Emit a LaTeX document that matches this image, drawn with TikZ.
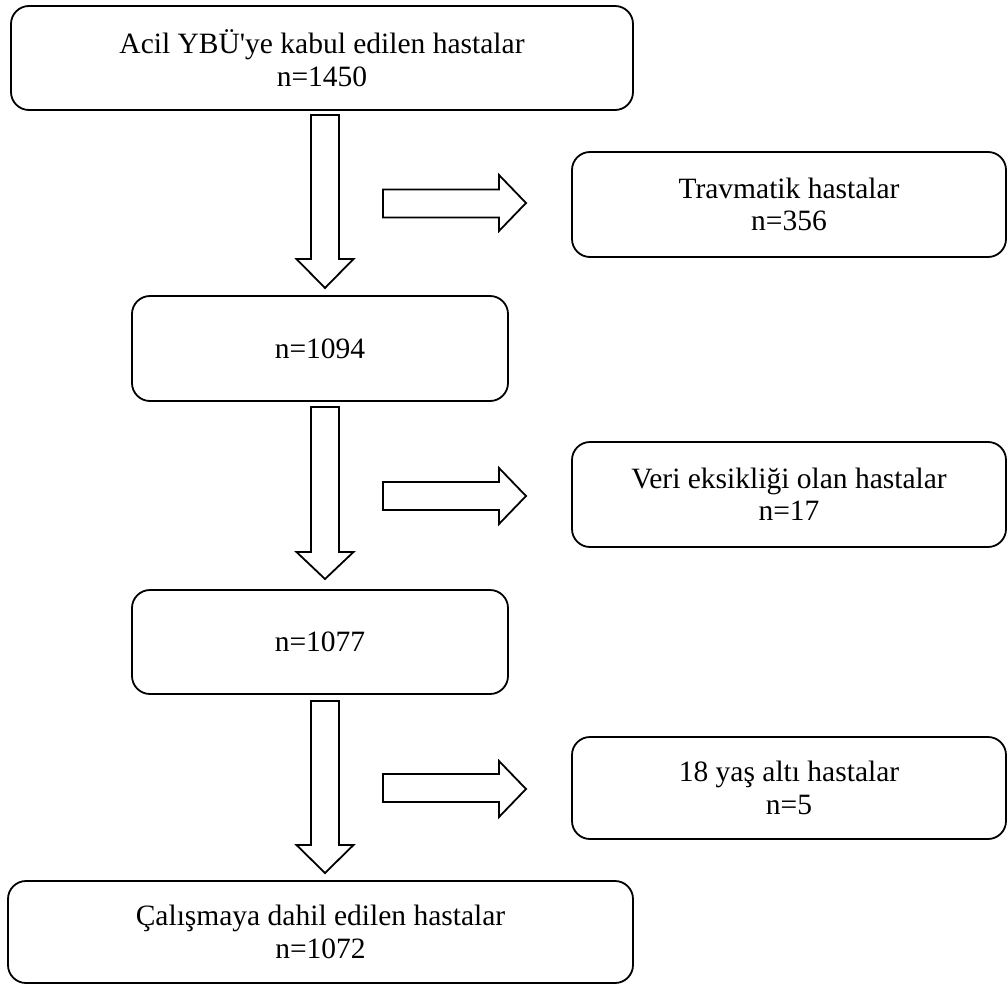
\documentclass[tikz,border=0pt]{standalone}
\usepackage{fontspec}
\setmainfont{Liberation Serif}
\begin{document}
\begin{tikzpicture}[x=1pt,y=-1pt,
  box/.style={draw=black, line width=1.8pt, rounded corners=18pt, align=center,
    inner sep=0pt, font=\fontsize{29.5}{32.5}\selectfont},
  blk/.style={draw=black, line width=1.8pt, fill=white, line join=miter}]
\useasboundingbox (0,0) rectangle (1008,984);
\newcommand\blockdown[4]{% x, top, headstart, tip
  \draw[blk] (#1-14,#2) -- (#1+14,#2) -- (#1+14,#3) -- (#1+28.5,#3) -- (#1,#4)
    -- (#1-28.5,#3) -- (#1-14,#3) -- cycle;}
\newcommand\blockright[2]{% top of shaft, tip y
  \draw[blk] (383,#1) -- (499,#1) -- (499,#2-28) -- (526,#2) -- (499,#2+28)
    -- (499,#1+28) -- (383,#1+28) -- cycle;}
\node[box, minimum width=622pt, minimum height=104pt] (b1) at (322,58)
  {Acil YBÜ\textquotesingle ye kabul edilen hastalar\\n=1450};
\node[box, minimum width=434pt, minimum height=105pt] (t) at (789,204.5)
  {Travmatik hastalar\\n=356};
\node[box, minimum width=376pt, minimum height=105pt] (b2) at (320,348.5)
  {n=1094};
\node[box, minimum width=434pt, minimum height=105pt] (v) at (789,494.5)
  {Veri eksikliği olan hastalar\\n=17};
\node[box, minimum width=376pt, minimum height=104pt] (b3) at (320,642)
  {n=1077};
\node[box, minimum width=434pt, minimum height=102pt] (y) at (789,788)
  {18 yaş altı hastalar\\n=5};
\node[box, minimum width=625pt, minimum height=102pt] (b4) at (320.5,932)
  {Çalışmaya dahil edilen hastalar\\n=1072};
\blockdown{325}{115}{259}{288}
\blockdown{325}{407}{552}{579}
\blockdown{325}{701}{845}{873}
\blockright{189.5}{203}
\blockright{482}{496}
\blockright{774}{789}
\end{tikzpicture}
\end{document}
